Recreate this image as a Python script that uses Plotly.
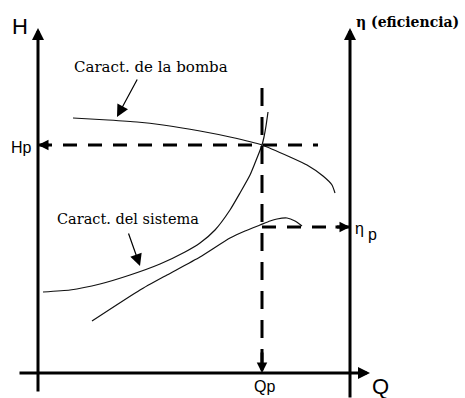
import plotly.graph_objects as go

# Pump characteristic curve H(Q)
pump_q = [35, 70, 99, 125, 162, 192, 224, 252, 269, 285, 294, 297]
pump_h = [255, 253, 251, 248, 242, 236, 228, 216, 208, 197, 188, 180]

# System characteristic curve H(Q)
system_q = [5, 32, 62, 92, 122, 147, 162, 177, 192, 202, 212, 217, 221, 224, 226, 228, 230]
system_h = [81, 83, 89, 98, 109, 121, 130, 143, 163, 180, 198, 210, 220, 228, 236, 247, 261]

# Efficiency curve eta(Q)
eff_q = [54, 102, 129, 162, 192, 207, 222, 232, 239, 249, 257, 264]
eff_h = [52, 83, 98, 116, 135, 142, 148, 152, 154, 155, 152, 147]

# Operating point
q_op = 224
h_op = 228
eta_op = 146

# Axis extents (Q axis at H=0, H axis at Q=0, efficiency axis at Q=q_eta)
q_eta = 312
axis_top = 345
q_axis_end = 332

SANS = "Liberation Sans"
SERIF = "DejaVu Serif"
INK = "#000000"

fig = go.Figure()

curve = dict(color="#111111", width=1.2, shape="spline", smoothing=0.5)
fig.add_trace(go.Scatter(x=pump_q, y=pump_h, mode="lines", line=curve, hoverinfo="skip"))
fig.add_trace(go.Scatter(x=system_q, y=system_h, mode="lines", line=curve, hoverinfo="skip"))
fig.add_trace(go.Scatter(x=eff_q, y=eff_h, mode="lines", line=curve, hoverinfo="skip"))

# Dashed guide lines through the operating point
fig.add_trace(go.Scatter(x=[0, 280], y=[h_op, h_op], mode="lines",
                         line=dict(color=INK, width=3, dash="14px,11px"), hoverinfo="skip"))
fig.add_trace(go.Scatter(x=[q_op, q_op], y=[285, 0], mode="lines",
                         line=dict(color=INK, width=3, dash="18px,11px"), hoverinfo="skip"))
fig.add_trace(go.Scatter(x=[q_op, q_eta], y=[eta_op, eta_op], mode="lines",
                         line=dict(color=INK, width=3, dash="14px,11px"), hoverinfo="skip"))

ann = []


def arrow(x, y, ax, ay, width=3, size=0.8, head=2):
    ann.append(dict(x=x, y=y, ax=ax, ay=ay, xref="x", yref="y", axref="x", ayref="y",
                    text="", showarrow=True, arrowhead=head, arrowsize=size,
                    arrowwidth=width, arrowcolor=INK, standoff=0))


# Main axes
arrow(0, axis_top, 0, -20)
arrow(q_eta, axis_top, q_eta, -26)
arrow(q_axis_end, 0, -20, 0)

# Arrow tips of the dashed guides
arrow(0, h_op, 12, h_op, size=0.7)
arrow(q_op, 0, q_op, 22, size=0.7)
arrow(q_eta, eta_op, q_eta - 16, eta_op, size=0.7)

# Pointer arrows for the curve labels
arrow(79, 256, 100, 295, width=1.2, size=2)
arrow(102, 107, 90, 141, width=1.2, size=2)


def label(x, y, text, size, family=SANS, xanchor="center", yanchor="middle"):
    ann.append(dict(x=x, y=y, xref="x", yref="y", text=text, showarrow=False,
                    font=dict(family=family, size=size, color=INK),
                    xanchor=xanchor, yanchor=yanchor))


label(-18, 347, "H", 22)
label(342, -13, "Q", 22)
label(-17, 226, "Hp", 16)
label(226, -13, "Qp", 16)
label(321, eta_op - 1, "η", 16)
label(334, eta_op - 7, "p", 16)
label(316, 351, "<b>η (eficiencia)</b>", 14, family=SERIF, xanchor="left")
label(113, 306, "Caract. de la bomba", 15, family=SERIF)
label(90, 154, "Caract. del sistema", 14.5, family=SERIF)

fig.update_layout(
    width=465, height=398,
    margin=dict(l=0, r=0, t=0, b=0),
    paper_bgcolor="white", plot_bgcolor="white",
    showlegend=False,
    xaxis=dict(range=[-38, 427], visible=False, fixedrange=True),
    yaxis=dict(range=[-25, 373], visible=False, fixedrange=True),
    annotations=ann,
)

fig.write_html("out.html")
